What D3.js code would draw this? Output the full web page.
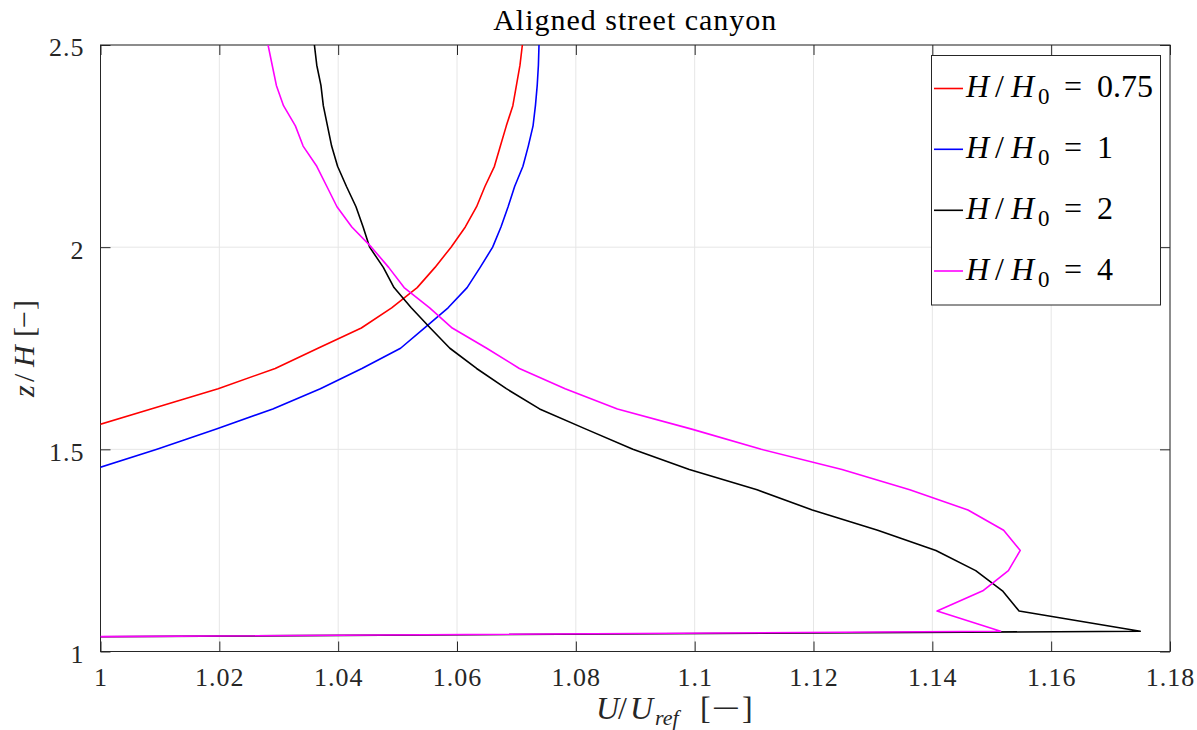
<!DOCTYPE html>
<html>
<head>
<meta charset="utf-8">
<script src="https://cdn.jsdelivr.net/npm/d3@7"></script>
<style>
  html, body { margin: 0; padding: 0; background: #fff; }
  svg { display: block; }
  text { font-family: "Liberation Serif", "Times New Roman", serif; fill: #262626; }
</style>
</head>
<body>
<svg id="chart" width="1197" height="730"></svg>
<script>
// Heights z/H shared by all profiles
const heights = [1.00, 1.05, 1.10, 1.15, 1.20, 1.25, 1.30, 1.35, 1.40, 1.45,
                 1.50, 1.55, 1.60, 1.65, 1.70, 1.75, 1.80, 1.85, 1.90, 1.95,
                 2.00, 2.05, 2.10, 2.15, 2.20, 2.25, 2.30, 2.35, 2.40, 2.45, 2.50];

// U/Uref profiles (null = not sampled)
const speedH075 = [null, null, null, null, null, null, null, null, null, null,
                   null, 0.9973, 1.0085, 1.0198, 1.0294, 1.0366, 1.0439, 1.0490, 1.0533, 1.0563,
                   1.0590, 1.0614, 1.0633, 1.0647, 1.0663, 1.0673, 1.0683, 1.0694, 1.0700, 1.0706, 1.0710];
const speedH1   = [null, null, null, null, null, null, null, null, null, 0.9988,
                   1.0095, 1.0195, 1.0290, 1.0370, 1.0440, 1.0505, 1.0545, 1.0585, 1.0617, 1.0639,
                   1.0660, 1.0674, 1.0686, 1.0697, 1.0711, 1.0720, 1.0728, 1.0732, 1.0735, 1.0737, 1.0738];
const speedH2   = [0.52, 1.1750, 1.1546, 1.1518, 1.1473, 1.1406, 1.1308, 1.1198, 1.1105, 1.0991,
                   1.0896, 1.0817, 1.0739, 1.0683, 1.0633, 1.0588, 1.0555, 1.0523, 1.0494, 1.0476,
                   1.0453, 1.0442, 1.0430, 1.0414, 1.0399, 1.0389, 1.0382, 1.0375, 1.0371, 1.0364, 1.0360];
const speedH4   = [0.58, 1.1515, 1.1408, 1.1485, 1.1528, 1.1548, 1.1520, 1.1460, 1.1362, 1.1248,
                   1.1112, 1.0995, 1.0870, 1.0782, 1.0705, 1.0650, 1.0592, 1.0554, 1.0511, 1.0485,
                   1.0456, 1.0423, 1.0398, 1.0381, 1.0364, 1.0341, 1.0328, 1.0308, 1.0296, 1.0289, 1.0282];

const seriesLabels = ["0.75", "1", "2", "4"];
const seriesColors = ["#ff0000", "#0000ff", "#000000", "#ff00ff"];
const seriesValues = [speedH075, speedH1, speedH2, speedH4];

const xTicks = [1, 1.02, 1.04, 1.06, 1.08, 1.1, 1.12, 1.14, 1.16, 1.18];
const yTicks = [1, 1.5, 2, 2.5];

const svg = d3.select("#chart");
const pLeft = 100.5, pRight = 1170, pTop = 45, pBottom = 651.5;

const x = d3.scaleLinear().domain([1, 1.18]).range([pLeft, pRight]);
const y = d3.scaleLinear().domain([1, 2.5]).range([pBottom, pTop]);

svg.append("defs").append("clipPath").attr("id", "plotClip")
  .append("rect").attr("x", pLeft).attr("y", pTop)
  .attr("width", pRight - pLeft).attr("height", pBottom - pTop);

// grid
const grid = svg.append("g");
grid.selectAll("line.gx").data(xTicks).join("line")
  .attr("x1", d => x(d)).attr("x2", d => x(d))
  .attr("y1", pTop).attr("y2", pBottom)
  .attr("stroke", "#e6e6e6").attr("stroke-width", 1);
grid.selectAll("line.gy").data(yTicks).join("line")
  .attr("y1", d => y(d)).attr("y2", d => y(d))
  .attr("x1", pLeft).attr("x2", pRight)
  .attr("stroke", "#e6e6e6").attr("stroke-width", 1);

// axes with inward ticks
const fmt = d => String(+d.toFixed(2));
const axB = svg.append("g").attr("transform", `translate(0,${pBottom})`)
  .call(d3.axisBottom(x).tickValues(xTicks).tickFormat(fmt).tickSizeInner(-10).tickSizeOuter(0).tickPadding(16));
const axT = svg.append("g").attr("transform", `translate(0,${pTop})`)
  .call(d3.axisTop(x).tickValues(xTicks).tickFormat("").tickSizeInner(-10).tickSizeOuter(0));
const axL = svg.append("g").attr("transform", `translate(${pLeft},0)`)
  .call(d3.axisLeft(y).tickValues(yTicks).tickFormat(fmt).tickSizeInner(-10).tickSizeOuter(0).tickPadding(16));
const axR = svg.append("g").attr("transform", `translate(${pRight},0)`)
  .call(d3.axisRight(y).tickValues(yTicks).tickFormat("").tickSizeInner(-10).tickSizeOuter(0));

[axB, axT, axL, axR].forEach(a => {
  a.select(".domain").remove();
  a.selectAll(".tick line").attr("stroke", "#262626").attr("stroke-width", 1);
  a.selectAll("text").attr("font-size", 26).attr("fill", "#262626")
    .style("letter-spacing", "1px");
});
axL.selectAll("text").attr("dy", "0.42em");

// frame
svg.append("rect").attr("x", pLeft).attr("y", pTop)
  .attr("width", pRight - pLeft).attr("height", pBottom - pTop)
  .attr("fill", "none").attr("stroke", "#262626").attr("stroke-width", 1);

// profiles
const line = d3.line()
  .defined(d => d.u !== null)
  .x(d => x(d.u)).y(d => y(d.z));

const plot = svg.append("g").attr("clip-path", "url(#plotClip)");
seriesValues.forEach((vals, i) => {
  const pts = heights.map((z, k) => ({ z, u: vals[k] }));
  plot.append("path").datum(pts)
    .attr("d", line)
    .attr("fill", "none")
    .attr("stroke", seriesColors[i])
    .attr("stroke-width", 1.6)
    .attr("stroke-linejoin", "round");
});

// title
svg.append("text").attr("x", (pLeft + pRight) / 2).attr("y", 30)
  .attr("text-anchor", "middle").attr("font-size", 30)
  .style("letter-spacing", "1px")
  .style("fill", "#000")
  .text("Aligned street canyon");

// place math-like labels piece by piece: [text, x, baseline offset, size, italic, width]
function mathText(parent, pieces, baseY, fill) {
  const t = parent.append("text").style("fill", fill);
  pieces.forEach(([s, px, off, size, it, w]) => {
    const sp = t.append("tspan").attr("x", px).attr("y", baseY + off)
      .attr("font-size", size).attr("font-style", it ? "italic" : "normal")
      .text(s);
    if (w) sp.attr("textLength", w).attr("lengthAdjust", "spacingAndGlyphs");
  });
  return t;
}

// x label: U/U_ref [−]
mathText(svg, [
  ["U", 596, 0, 32, true],
  ["/", 618, 0, 32, false],
  ["U", 630, 0, 32, true],
  ["ref", 655, 6, 22, true],
  ["[", 700, 0, 32, false],
  ["−", 711, 0, 32, false, 29],
  ["]", 742, 0, 32, false]
], 719, "#262626");

// y label: z/H[−], rotated
const ylg = svg.append("g").attr("transform", "translate(34,0) rotate(-90)");
mathText(ylg, [
  ["z", -397, 0, 30, true],
  ["/", -382, 0, 30, false],
  ["H", -367, 0, 30, true],
  ["[", -337, 0, 30, false],
  ["−", -328, 0, 30, false, 17],
  ["]", -310, 0, 30, false]
], 0, "#262626");

// legend
const lg = svg.append("g");
lg.append("rect").attr("x", 931.5).attr("y", 55.5).attr("width", 229).attr("height", 249.5)
  .attr("fill", "#fff").attr("stroke", "#262626").attr("stroke-width", 1);
const legendLineY = [88.5, 149.3, 210.3, 271];
seriesLabels.forEach((lab, i) => {
  const ly = legendLineY[i];
  lg.append("line").attr("x1", 934).attr("x2", 963).attr("y1", ly).attr("y2", ly)
    .attr("stroke", seriesColors[i]).attr("stroke-width", 1.6);
  mathText(lg, [
    ["H", 966, 0, 32, true],
    ["/", 995, 0, 32, false],
    ["H", 1011, 0, 32, true],
    ["0", 1038, 7, 23, false],
    ["=", 1064, 0, 32, false],
    [lab, 1097, 0, 32, false]
  ], ly + 8.5, "#000");
});
</script>
</body>
</html>
